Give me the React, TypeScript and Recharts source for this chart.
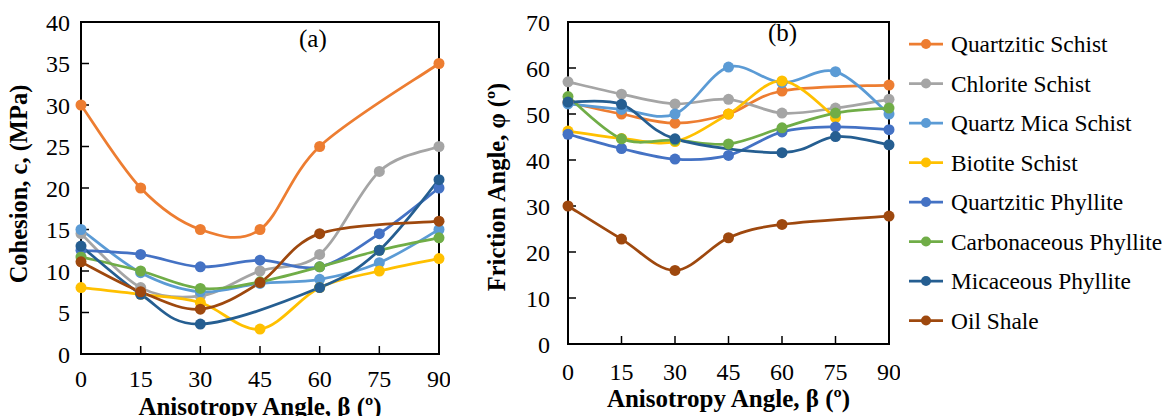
import {
  LineChart,
  Line,
  XAxis,
  YAxis,
  ReferenceArea,
} from "recharts";

// β, anisotropy angle (degrees)
const angles = [0, 15, 30, 45, 60, 75, 90];
const cohesionTicks = [0, 5, 10, 15, 20, 25, 30, 35, 40];
const frictionTicks = [0, 10, 20, 30, 40, 50, 60, 70];

// cohesion c (MPa); null = not tested at that angle
const quartziticSchistC = [30, 20, 15, 15, 25, null, 35];
const chloriteSchistC = [14.5, 8, 7, 10, 12, 22, 25];
const quartzMicaSchistC = [15, 9.8, 7.5, 8.5, 9, 11, 15];
const biotiteSchistC = [8, 7.2, 6.2, 3, 8, 10, 11.5];
const quartziticPhylliteC = [12.5, 12, 10.5, 11.3, 10.5, 14.5, 20];
const carbonaceousPhylliteC = [11.7, 10, 7.9, 8.7, 10.5, 12.5, 14];
const micaceousPhylliteC = [13, 7.2, 3.6, null, 8, 12.5, 21];
const oilShaleC = [11.1, 7.5, 5.4, 8.6, 14.5, null, 16];

// friction angle φ (degrees)
const quartziticSchistF = [52.5, 50, 48, 50, 55, null, 56.3];
const chloriteSchistF = [57, 54.3, 52.2, 53.2, 50.2, 51.3, 53.2];
const quartzMicaSchistF = [52.2, 51, 50, 60.2, 56.8, 59.2, 50];
const biotiteSchistF = [46.3, 44.7, 44, 50, 57.2, 49.2, null];
const quartziticPhylliteF = [45.6, 42.5, 40.2, 41, 46.1, 47.2, 46.6];
const carbonaceousPhylliteF = [53.8, 44.6, 44.3, 43.5, 47, 50.2, 51.3];
const micaceousPhylliteF = [52.6, 52.1, 44.6, null, 41.6, 45.1, 43.3];
const oilShaleF = [30, 22.8, 16, 23.1, 26, null, 27.8];

const rocks = [
  { key: "qs", name: "Quartzitic Schist", color: "#ED7D31", c: quartziticSchistC, f: quartziticSchistF },
  { key: "cs", name: "Chlorite Schist", color: "#A5A5A5", c: chloriteSchistC, f: chloriteSchistF },
  { key: "qms", name: "Quartz Mica Schist", color: "#5B9BD5", c: quartzMicaSchistC, f: quartzMicaSchistF },
  { key: "bs", name: "Biotite Schist", color: "#FFC000", c: biotiteSchistC, f: biotiteSchistF },
  { key: "qp", name: "Quartzitic Phyllite", color: "#4472C4", c: quartziticPhylliteC, f: quartziticPhylliteF },
  { key: "cp", name: "Carbonaceous Phyllite", color: "#70AD47", c: carbonaceousPhylliteC, f: carbonaceousPhylliteF },
  { key: "mp", name: "Micaceous Phyllite", color: "#255E91", c: micaceousPhylliteC, f: micaceousPhylliteF },
  { key: "os", name: "Oil Shale", color: "#9E480E", c: oilShaleC, f: oilShaleF },
];

const buildRows = (field: "c" | "f") =>
  angles.map((beta, i) => {
    const row: Record<string, number | null> = { beta };
    rocks.forEach((r) => {
      row[r.key] = r[field][i];
    });
    return row;
  });

const cohesionRows = buildRows("c");
const frictionRows = buildRows("f");

const FONT = "'Liberation Serif', 'Times New Roman', serif";
const TICK_FS = 24;
const TITLE_FS = 25;

// Excel-style smoothed line (Catmull-Rom through the points)
function smoothCurve(context: any) {
  let pts: number[][] = [];
  return {
    areaStart() {},
    areaEnd() {},
    lineStart() {
      pts = [];
    },
    point(x: number, y: number) {
      pts.push([+x, +y]);
    },
    lineEnd() {
      const n = pts.length;
      if (!n) return;
      context.moveTo(pts[0][0], pts[0][1]);
      for (let i = 0; i < n - 1; i++) {
        const p0 = pts[Math.max(i - 1, 0)];
        const p1 = pts[i];
        const p2 = pts[i + 1];
        const p3 = pts[Math.min(i + 2, n - 1)];
        context.bezierCurveTo(
          p1[0] + (p2[0] - p0[0]) / 6,
          p1[1] + (p2[1] - p0[1]) / 6,
          p2[0] - (p3[0] - p1[0]) / 6,
          p2[1] - (p3[1] - p1[1]) / 6,
          p2[0],
          p2[1]
        );
      }
    },
  };
}

// rotated y-axis title; baseX is where the rotated baseline sits
function YTitle({ viewBox, title, baseX, shiftY = 0 }: any) {
  const cy = (viewBox && viewBox.height ? viewBox.y + viewBox.height / 2 : 188) + shiftY;
  return (
    <text
      x={baseX}
      y={cy}
      transform={`rotate(-90 ${baseX} ${cy})`}
      textAnchor="middle"
      fontWeight="bold"
      fontSize={24.5}
      fontFamily={FONT}
      fill="#000"
    >
      {title}
    </text>
  );
}

interface PanelProps {
  data: Array<Record<string, number | null>>;
  yMax: number;
  yTicks: number[];
  yTitle: string;
  yTitleX: number;
  yTitleDy: number;
  yAxisWidth: number;
  yTickMargin: number;
  xAxisHeight: number;
  xTickMargin: number;
  xTitleOffset: number;
  width: number;
}

function Panel({
  data,
  yMax,
  yTicks,
  yTitle,
  yTitleX,
  yTitleDy,
  yAxisWidth,
  yTickMargin,
  xAxisHeight,
  xTickMargin,
  xTitleOffset,
  width,
}: PanelProps) {
  const tickStyle = { fill: "#000", fontSize: TICK_FS, fontFamily: FONT };
  return (
    <LineChart
      width={width}
      height={416}
      data={data}
      margin={{ top: 22, right: 11, left: 0, bottom: 0 }}
    >
      <XAxis
        dataKey="beta"
        type="number"
        domain={[0, 90]}
        ticks={angles}
        interval={0}
        height={xAxisHeight}
        tick={tickStyle}
        tickSize={-8}
        tickMargin={xTickMargin}
        axisLine={{ stroke: "#000", strokeWidth: 2 }}
        tickLine={{ stroke: "#000", strokeWidth: 1.5 }}
        label={{
          value: "Anisotropy Angle, β (º)",
          position: "insideBottom",
          offset: xTitleOffset,
          fill: "#000",
          fontSize: TITLE_FS,
          fontWeight: "bold",
          fontFamily: FONT,
        }}
      />
      <YAxis
        type="number"
        domain={[0, yMax]}
        ticks={yTicks}
        interval={0}
        width={yAxisWidth}
        tick={tickStyle}
        tickSize={-8}
        tickMargin={yTickMargin}
        axisLine={{ stroke: "#000", strokeWidth: 2 }}
        tickLine={{ stroke: "#000", strokeWidth: 1.5 }}
        label={<YTitle title={yTitle} baseX={yTitleX} shiftY={yTitleDy} />}
      />
      <ReferenceArea
        x1={0}
        x2={90}
        y1={0}
        y2={yMax}
        fill="none"
        stroke="#000"
        strokeWidth={2}
      />
      {rocks.map((r) => (
        <Line
          key={r.key}
          dataKey={r.key}
          name={r.name}
          type={smoothCurve as any}
          stroke={r.color}
          strokeWidth={2.75}
          dot={{ r: 5.5, fill: r.color, stroke: r.color, strokeWidth: 0 }}
          activeDot={false}
          connectNulls
          isAnimationActive={false}
        />
      ))}
    </LineChart>
  );
}

function RockLegend() {
  return (
    <svg width={263} height={360} style={{ position: "absolute", left: 900, top: 0 }}>
      {rocks.map((r, i) => {
        const cy = 44 + i * 39.5;
        return (
          <g key={r.key}>
            <line x1={9} x2={43} y1={cy} y2={cy} stroke={r.color} strokeWidth={2.75} />
            <circle cx={26} cy={cy} r={5} fill={r.color} />
            <text x={51} y={cy + 8} fontSize={23.4} fontFamily={FONT} fill="#000">
              {r.name}
            </text>
          </g>
        );
      })}
    </svg>
  );
}

export default function App() {
  return (
    <div
      style={{
        position: "absolute",
        left: 0,
        top: 0,
        width: 1163,
        height: 416,
        background: "#fff",
        fontFamily: FONT,
        overflow: "hidden",
      }}
    >
      <div style={{ position: "absolute", left: 0, top: 0 }}>
        <Panel
          data={cohesionRows}
          yMax={40}
          yTicks={cohesionTicks}
          yTitle="Cohesion, c, (MPa)"
          yTitleX={27}
          yTitleDy={-4}
          yAxisWidth={81}
          yTickMargin={19}
          xAxisHeight={62}
          xTickMargin={24}
          xTitleOffset={1}
          width={450}
        />
      </div>
      <div style={{ position: "absolute", left: 480, top: 0 }}>
        <Panel
          data={frictionRows}
          yMax={70}
          yTicks={frictionTicks}
          yTitle="Friction Angle, φ (º)"
          yTitleX={25}
          yTitleDy={4}
          yAxisWidth={88}
          yTickMargin={26}
          xAxisHeight={72}
          xTickMargin={27}
          xTitleOffset={9}
          width={420}
        />
      </div>
      <div style={{ position: "absolute", left: 299, top: 25, fontSize: 25, lineHeight: "28px" }}>(a)</div>
      <div style={{ position: "absolute", left: 768, top: 19, fontSize: 25, lineHeight: "28px" }}>(b)</div>
      <RockLegend />
    </div>
  );
}
